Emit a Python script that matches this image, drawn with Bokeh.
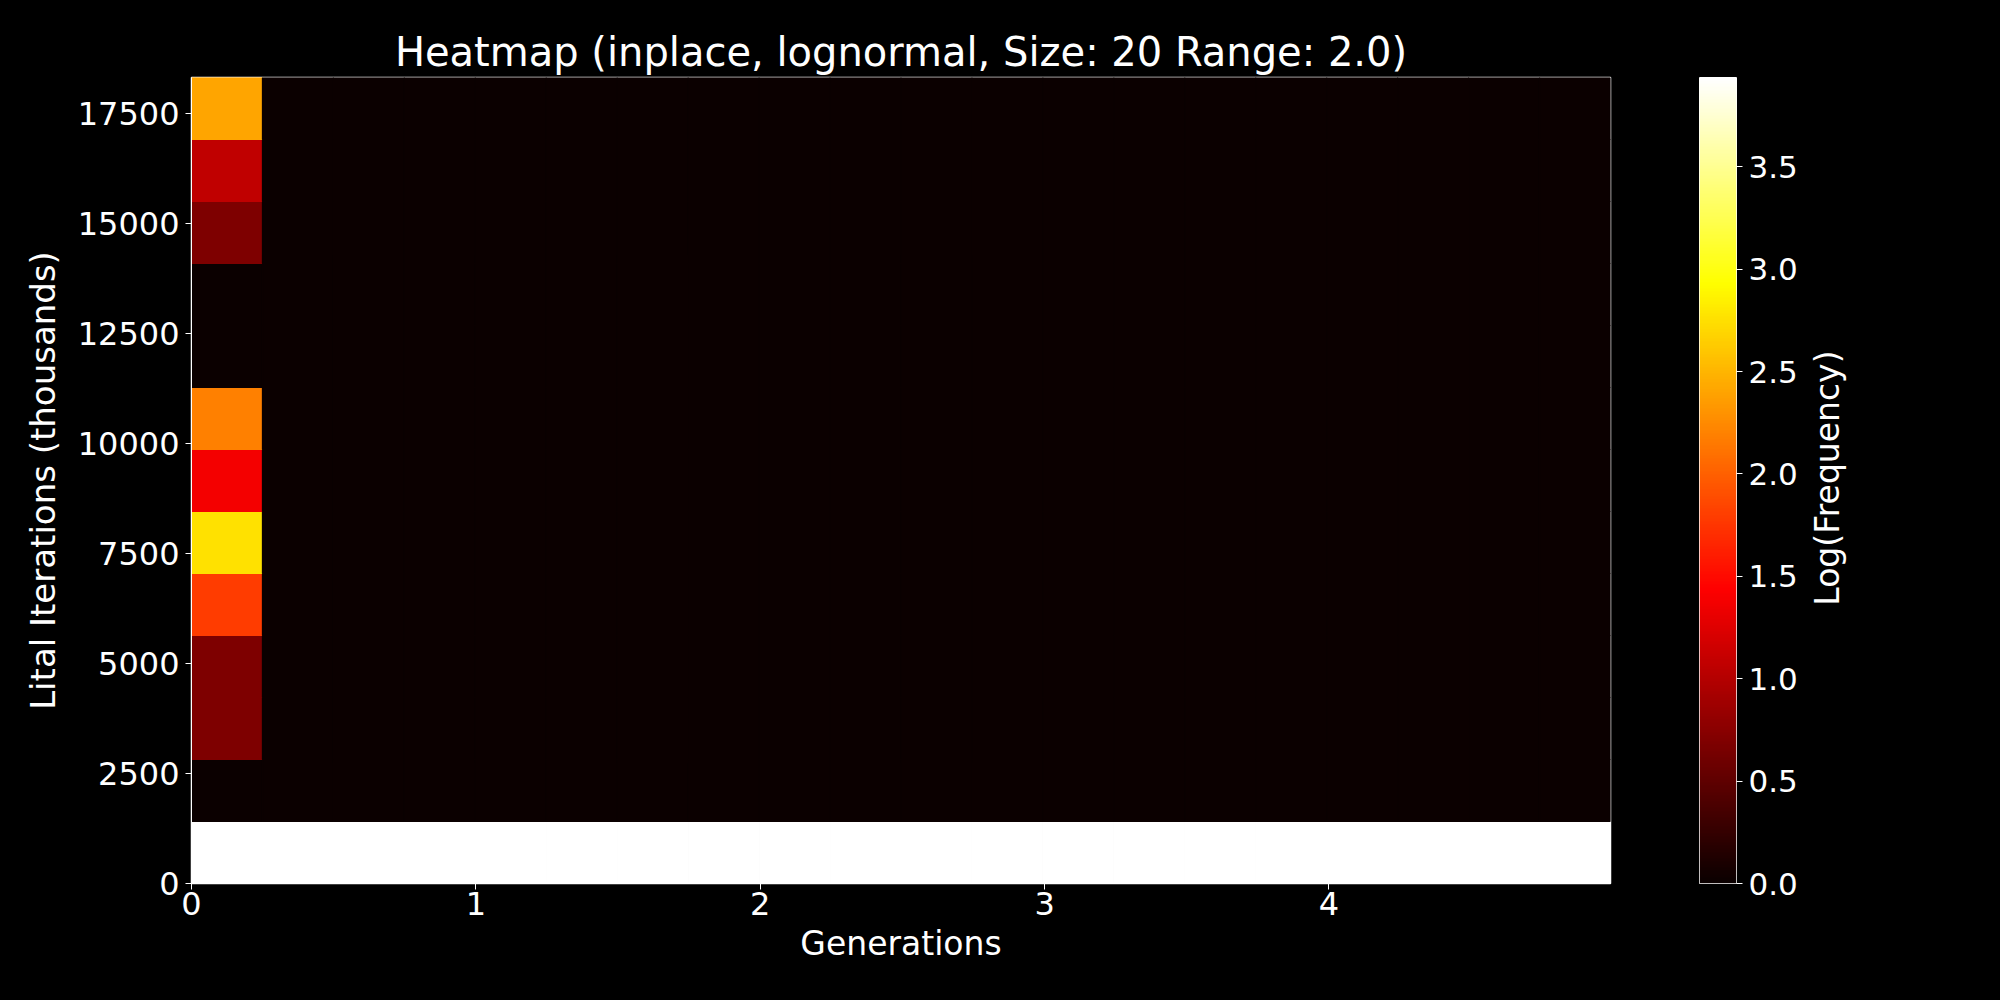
import math
import numpy as np
from bokeh.plotting import figure
from bokeh.layouts import row
from bokeh.models import LinearColorMapper, FixedTicker, ColumnDataSource, PrintfTickFormatter, Label
from bokeh.embed import file_html
from bokeh.resources import INLINE

# ---------------- data ----------------
title_text = "Heatmap (inplace, lognormal, Size: 20 Range: 2.0)"
x_label = "Generations"
y_label = "Lital Iterations (thousands)"
cbar_label = "Log(Frequency)"

x_max = 4.99          # generations axis extent
y_max = 18310.0       # iterations axis extent
n_cols = 20
n_rows = 13
v_max = 3.936         # top of colour scale

# log frequency in the first generation column, rows listed bottom -> top
col0_values = [3.936, 0.0, 0.69, 0.69, 1.79, 2.76, 1.38, 2.19, 0.0, 0.0, 0.69, 1.07, 2.41]
# log frequency in the lowest iterations row, columns listed left -> right
row0_values = [3.936, 3.936, 3.936, 3.936, 3.936, 3.936, 3.936, 3.936, 3.936, 3.936,
               3.936, 3.936, 3.936, 3.936, 3.936, 3.936, 3.936, 3.936, 3.936, 3.936]

x_ticks = [0, 1, 2, 3, 4]
y_ticks = [0, 2500, 5000, 7500, 10000, 12500, 15000, 17500]
cbar_ticks = [0.0, 0.5, 1.0, 1.5, 2.0, 2.5, 3.0, 3.5]

# ---------------- colormap (matplotlib "hot") ----------------
def hot(t):
    r = min(1.0, 0.0416 + (1 - 0.0416) * t / 0.365079)
    g = min(1.0, max(0.0, (t - 0.365079) / (0.746032 - 0.365079)))
    b = min(1.0, max(0.0, (t - 0.746032) / (1 - 0.746032)))
    return "#%02x%02x%02x" % (int(r * 255 + 0.5), int(g * 255 + 0.5), int(b * 255 + 0.5))

palette = [hot(t) for t in np.linspace(0, 1, 256)]
mapper = LinearColorMapper(palette=palette, low=0, high=v_max)

# ---------------- grid of cells ----------------
x_edges = np.linspace(0, x_max, n_cols + 1)
y_edges = np.linspace(0, y_max, n_rows + 1)
grid = np.zeros((n_rows, n_cols))
grid[:, 0] = col0_values
grid[0, :] = row0_values

left, right, bottom, top, vals = [], [], [], [], []
for i in range(n_rows):
    for j in range(n_cols):
        left.append(x_edges[j]); right.append(x_edges[j + 1])
        bottom.append(y_edges[i]); top.append(y_edges[i + 1])
        vals.append(grid[i, j])
src = ColumnDataSource(dict(left=left, right=right, bottom=bottom, top=top, v=vals))

FONT = "DejaVu Sans"

p = figure(width=1650, height=1000, x_range=(0, x_max), y_range=(0, y_max),
           output_backend="svg", toolbar_location=None, title=title_text,
           min_border_left=191, min_border_right=40, min_border_top=77, min_border_bottom=117)
p.quad(left="left", right="right", bottom="bottom", top="top", source=src,
       fill_color={"field": "v", "transform": mapper},
       line_color={"field": "v", "transform": mapper}, line_width=1.2)

p.background_fill_color = palette[0]
p.border_fill_color = "black"
p.outline_line_color = "white"
p.outline_line_width = 1.5
p.grid.visible = False

p.title.text_font = FONT
p.title.text_font_size = "40px"
p.title.text_font_style = "normal"
p.title.text_color = "white"
p.title.align = "center"
p.title.standoff = 6

for ax in (p.xaxis[0], p.yaxis[0]):
    ax.axis_line_color = "white"
    ax.major_tick_line_color = "white"
    ax.minor_tick_line_color = None
    ax.major_tick_out = 6
    ax.major_tick_in = 0
    ax.major_label_text_color = "white"
    ax.major_label_text_font = FONT
    ax.major_label_text_font_size = "32px"
    ax.axis_label_text_color = "white"
    ax.axis_label_text_font = FONT
    ax.axis_label_text_font_size = "33px"
    ax.axis_label_text_font_style = "normal"

p.yaxis.axis_label_text_font_size = "34px"
p.xaxis.ticker = FixedTicker(ticks=x_ticks)
p.yaxis.ticker = FixedTicker(ticks=y_ticks)
p.xaxis.axis_label = x_label
p.yaxis.axis_label = y_label
p.xaxis.major_label_standoff = 2
p.xaxis.axis_label_standoff = 6
p.yaxis.major_label_standoff = 6
p.yaxis.axis_label_standoff = 12

# ---------------- colour bar ----------------
grad = np.linspace(0, v_max, 512).reshape(-1, 1)
cb = figure(width=150, height=1000, x_range=(0, 1), y_range=(0, v_max),
            output_backend="svg", toolbar_location=None, y_axis_location="right",
            min_border_left=49, min_border_right=63, min_border_top=77, min_border_bottom=117)
cb.image(image=[grad], x=0, y=0, dw=1, dh=v_max, color_mapper=mapper)
cb.xaxis.visible = False
cb.grid.visible = False
cb.background_fill_color = "black"
cb.border_fill_color = "black"
cb.outline_line_color = "white"
cb.outline_line_width = 1
ay = cb.yaxis[0]
ay.ticker = FixedTicker(ticks=cbar_ticks)
ay.formatter = PrintfTickFormatter(format="%.1f")
ay.axis_line_color = None
ay.major_tick_line_color = "white"
ay.minor_tick_line_color = None
ay.major_tick_out = 6
ay.major_tick_in = 0
ay.major_label_text_color = "white"
ay.major_label_text_font = FONT
ay.major_label_text_font_size = "31px"
ay.major_label_standoff = 6

# ---------------- colour-bar label strip (text reads bottom to top) ----------------
lab = figure(width=200, height=1000, x_range=(0, 200), y_range=(0, 1000),
             output_backend="svg", toolbar_location=None,
             x_axis_type=None, y_axis_type=None,
             min_border_left=0, min_border_right=0, min_border_top=0, min_border_bottom=0)
lab.grid.visible = False
lab.outline_line_color = None
lab.background_fill_color = "black"
lab.border_fill_color = "black"
lab.add_layout(Label(x=27, y=503, text=cbar_label, angle=math.pi / 2,
                     text_align="center", text_baseline="middle",
                     text_color="white", text_font=FONT, text_font_size="33px"))

layout = row(p, cb, lab, spacing=0)
layout.styles = {"background-color": "black"}
open("out.html", "w").write(file_html(layout, INLINE))
